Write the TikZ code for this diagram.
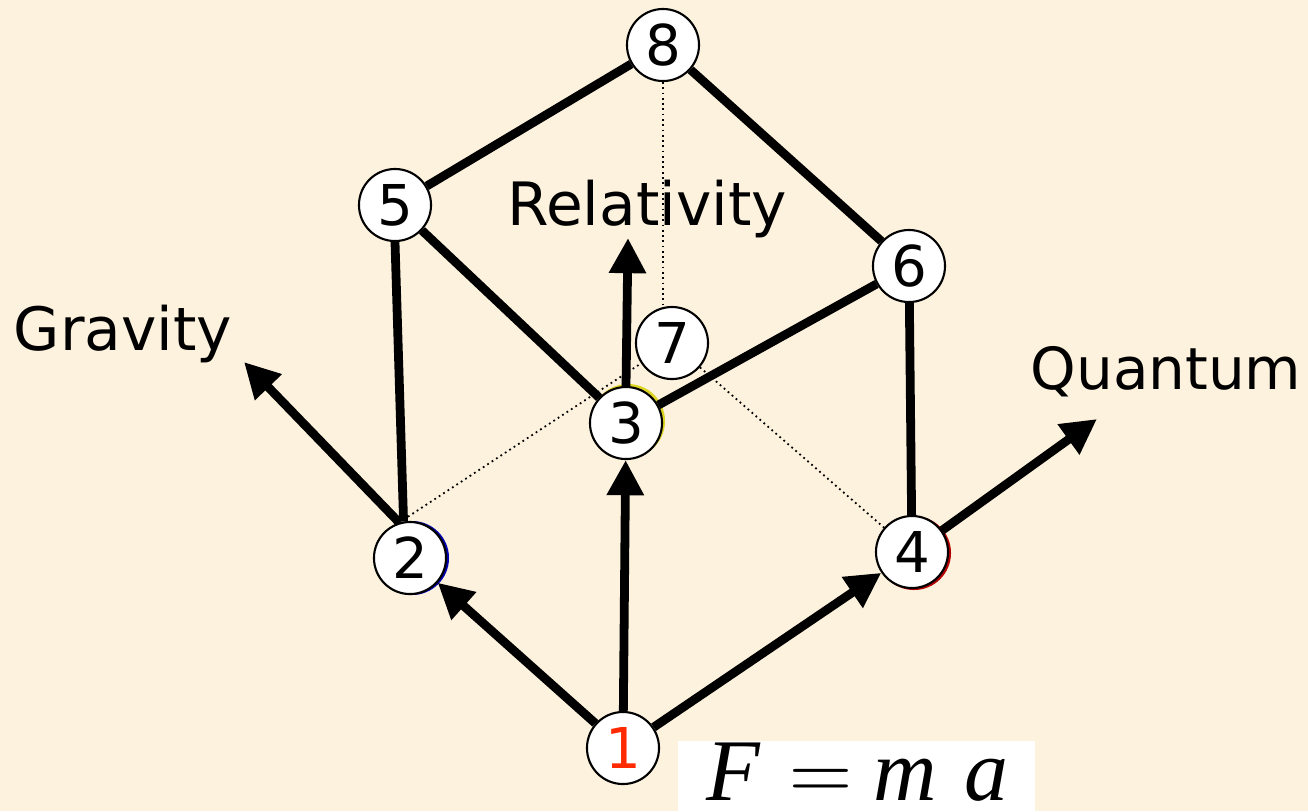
\documentclass[tikz,border=0pt]{standalone}
\usepackage{fontspec}
\setmainfont{DejaVu Sans}
\newfontfamily\eqfont{Liberation Serif}
\usetikzlibrary{arrows.meta}
\definecolor{parch}{HTML}{FCF2DD}
\definecolor{onered}{HTML}{FF2A00}
\tikzset{
  num/.style={circle,draw,line width=0.6pt,fill=white,minimum size=0.72cm,inner sep=0pt,font=\fontsize{16}{16}\selectfont},
  edge/.style={line width=2.5pt},
  arr/.style={line width=2.5pt,-{Triangle[length=10pt,width=10pt]}},
  axis/.style={font=\fontsize{17}{17}\selectfont},
  hidden/.style={densely dotted,line width=0.5pt}
}
\begin{document}
\begin{tikzpicture}[x=0.01cm,y=-0.01cm]
\fill[parch] (0,0) rectangle (1308,811);
\useasboundingbox (0,0) rectangle (1308,811);

\coordinate (c1) at (623,748);
\coordinate (c2) at (410,558);
\coordinate (c3) at (626,423);
\coordinate (c4) at (912,552);
\coordinate (c5) at (395,205);
\coordinate (c6) at (909,266);
\coordinate (c7) at (672,343);
\coordinate (c8) at (663,45);
\coordinate (gravtip) at (244,362);
\coordinate (reltip) at (628,238);
\coordinate (quanttip) at (1097,419);

\fill[yellow!85!black] ([shift={(2,-2)}]c3) circle (0.37cm);
\fill[blue!70!black] ([shift={(2,0)}]c2) circle (0.37cm);
\fill[red!70!black] ([shift={(2,1)}]c4) circle (0.37cm);

\node[num] (n1) at (c1) {\textcolor{onered}{1}};
\node[num] (n2) at (c2) {2};
\node[num] (n3) at (c3) {3};
\node[num] (n4) at (c4) {4};
\node[num] (n5) at (c5) {5};
\node[num] (n6) at (c6) {6};
\node[num] (n7) at (c7) {7};
\node[num] (n8) at (c8) {8};

\draw[hidden] (n8) -- (n8 |- n7.north);
\draw[hidden] (n2.107) -- (n7);
\draw[hidden] (n7) -- (n4);

\draw[arr] (n1) -- (n2);
\draw[arr] (n1) -- (n3);
\draw[arr] (n1) -- (n4);
\draw[arr] (n2.107) -- (gravtip);
\draw[arr] (n3.north) -- (reltip);
\draw[arr] (n4) -- (quanttip);

\draw[edge] (n2.100) -- (n5.south);
\draw[edge] (n5) -- (n3);
\draw[edge] (n3) -- (n6);
\draw[edge] (n4) -- (n6);
\draw[edge] (n5) -- (n8);
\draw[edge] (n8) -- (n6);

\node[axis] (grav) at (123,334) {Gravity};
\node[axis] (rel) at (647,209) {Relativity};
\node[axis,font=\fontsize{16.5}{16.5}\selectfont] (quant) at (1166,372) {Quantum};

\fill[white] (678,741) rectangle (1035,811);
\node[anchor=base west,inner sep=0pt,font=\eqfont\fontsize{25}{25}\selectfont] (eq) at (706,800) {\textit{F}\kern 8pt$=$\kern 6pt\textit{m}\kern 8pt\textit{a}};
\end{tikzpicture}
\end{document}
